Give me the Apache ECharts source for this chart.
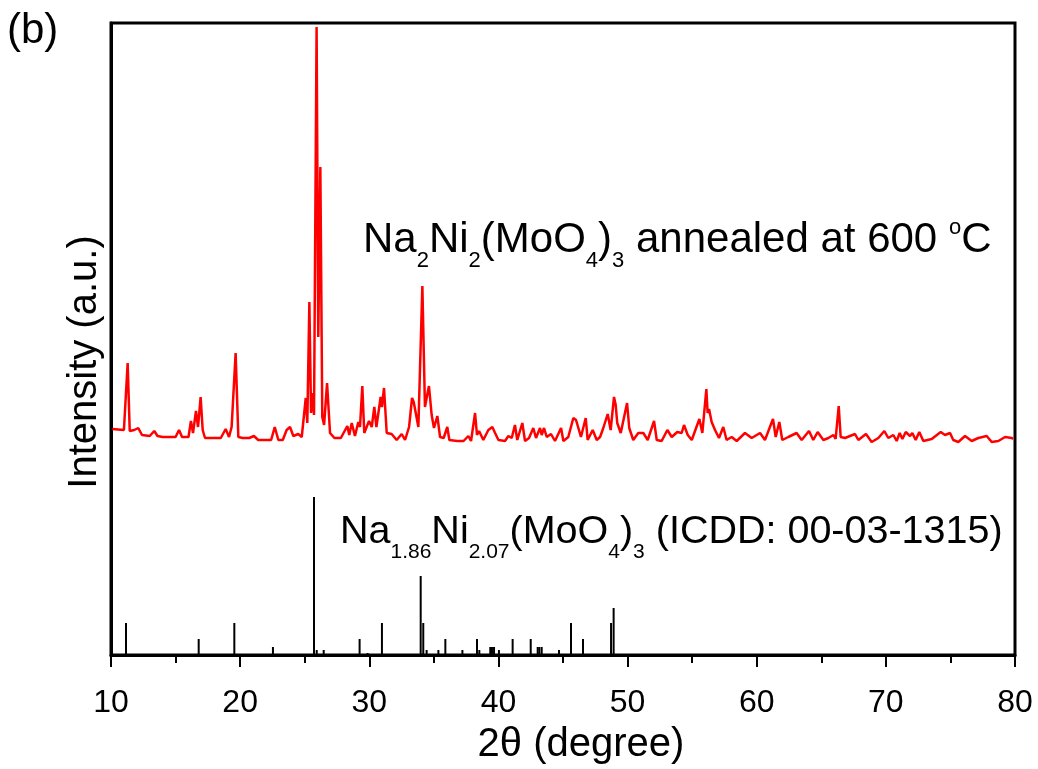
<!DOCTYPE html>
<html>
<head>
<meta charset="utf-8">
<script src="https://cdn.jsdelivr.net/npm/echarts@6/dist/echarts.min.js"></script>
<style>
html,body{margin:0;padding:0;background:#fff;}
#chart{width:1038px;height:769px;}
</style>
</head>
<body>
<div id="chart"></div>
<script>
// Measured XRD pattern (2theta, intensity a.u.)
const redTheta = [10.1,11.0,11.15,11.29,11.45,11.8,12.11,12.4,13.0,13.35,13.6,14.0,14.5,15.0,15.27,15.5,16.0,16.19,16.35,16.58,16.74,16.94,17.1,17.28,18.0,18.5,18.88,19.14,19.34,19.65,19.86,20.2,20.7,21.07,21.4,22.0,22.4,22.68,22.96,23.3,23.6,23.86,24.12,24.5,24.77,25.08,25.2,25.36,25.49,25.62,25.72,25.92,26.05,26.21,26.36,26.5,26.73,26.96,27.3,27.8,28.3,28.45,28.64,28.89,29.15,29.28,29.46,29.61,29.98,30.19,30.39,30.55,30.88,30.98,31.14,31.35,31.73,32.12,32.51,32.77,33.08,33.31,33.44,33.54,33.80,34.11,34.31,34.44,34.62,34.83,35.01,35.27,35.48,35.76,36.04,36.2,36.8,37.3,37.67,37.88,38.19,38.34,38.5,38.83,39.22,39.53,39.74,40.0,40.51,40.77,41.03,41.28,41.46,41.85,42.06,42.37,42.70,42.91,43.22,43.35,43.53,43.74,44.07,44.38,44.85,45.03,45.41,45.80,46.01,46.19,46.39,46.76,46.91,47.30,47.61,47.87,48.12,48.46,48.69,48.95,49.08,49.2,49.47,49.96,50.13,50.44,50.83,51.22,51.56,52.05,52.26,52.64,53.08,53.42,53.85,54.19,54.37,54.66,54.97,55.56,55.79,56.1,56.2,56.31,56.51,56.77,57.08,57.41,57.67,58.06,58.45,59.09,59.61,60.26,60.64,61.26,61.47,61.75,61.98,62.45,63.09,63.48,64.05,64.38,64.72,65.16,65.55,65.94,66.11,66.35,66.5,66.84,67.61,67.87,68.46,68.9,69.42,69.88,70.19,70.58,70.84,71.07,71.28,71.54,71.87,72.05,72.31,72.59,72.9,73.55,74.25,74.58,74.97,75.22,75.61,76.13,76.65,77.16,77.81,78.2,78.71,79.23,79.75,79.85];
const redIntensity = [226,225,227,292,224,225,227,220,219,224,219,218,218,218,225,218,218,234,222,244,228,258,225,217,217,217,226,218,228,302,218,217,217,219,215,215,215,228,215,215,225,228,219,221,218,257,232,353,242,262,240,628,318,488,238,230,272,222,217,217,229,220,232,219,233,228,269,222,234,228,248,228,258,248,267,222,221,215,221,215,228,257,253,255,228,369,248,257,269,240,227,239,218,217,228,215,214,214,219,214,242,220,224,215,225,228,222,215,214,219,217,230,215,232,214,217,227,217,227,220,227,218,221,214,227,214,218,237,235,227,218,237,215,225,215,218,227,241,225,258,250,232,222,252,227,215,222,222,215,234,215,214,225,218,223,222,230,220,215,236,222,266,242,246,233,225,217,228,215,218,214,222,217,222,215,236,218,233,215,218,222,215,224,215,223,215,217,220,216,249,218,217,221,215,221,213,217,224,217,220,214,222,216,223,219,222,215,223,214,216,223,220,222,215,213,219,214,217,219,213,214,218,217,216];

// Reference pattern ICDD 00-03-1315 (stick positions and heights)
const stickTheta = [11.16,16.79,19.55,22.54,25.72,25.93,26.47,29.25,29.87,30.98,33.98,34.18,34.44,35.35,35.89,37.21,38.34,38.52,39.37,39.50,39.66,40.04,41.10,42.50,43.04,43.17,43.35,44.69,45.62,46.55,48.72,48.92];
const stickIntensity = [32,16,32,8,158,5,5,16,2,32,79,32,5,5,16,5,16,5,8,8,8,5,16,16,8,8,8,5,32,16,32,47];

const xTicks = [10,20,30,40,50,60,70,80];

const redData = redTheta.map((t,i)=>[t, redIntensity[i]]);
const stickData = stickTheta.map((t,i)=>[t, stickIntensity[i]]);

const FONT = 'Arial, "Liberation Sans", sans-serif';
const chart = echarts.init(document.getElementById('chart'), null, {renderer:'canvas'});

function richSet(mainSize, subSize, subDrop, supRise){
  return {
    m:{fontSize:mainSize, fontFamily:FONT, color:'#000', lineHeight:56},
    s:{fontSize:subSize, fontFamily:FONT, color:'#000', lineHeight:56, padding:[subDrop*2,0,0,0]},
    p:{fontSize:subSize, fontFamily:FONT, color:'#000', lineHeight:56, padding:[0,0,supRise*2,0]}
  };
}

chart.setOption({
  animation:false,
  backgroundColor:'#fff',
  grid:{left:111,right:23,top:23,bottom:114,show:true,borderColor:'#000',borderWidth:3,backgroundColor:'transparent'},
  xAxis:{
    type:'value',min:10,max:80,interval:10,
    axisLine:{show:true,lineStyle:{color:'#000',width:3}},
    axisTick:{show:true,inside:false,length:12,lineStyle:{color:'#000',width:2}},
    minorTick:{show:true,splitNumber:2,length:8,lineStyle:{color:'#000',width:2}},
    splitLine:{show:false},
    axisLabel:{color:'#000',fontSize:32,fontFamily:FONT,margin:32,
      formatter:v=> xTicks.indexOf(v)>=0 ? String(v) : ''}
  },
  yAxis:{
    type:'value',min:0,max:632,
    axisLine:{show:true,lineStyle:{color:'#000',width:3}},
    axisTick:{show:false},axisLabel:{show:false},splitLine:{show:false}
  },
  series:[
    {
      type:'line',data:redData,showSymbol:false,symbol:'none',
      lineStyle:{color:'#ff0000',width:2.5},z:3
    },
    {
      type:'custom',data:stickData,z:3,
      renderItem:function(params,api){
        const p0 = api.coord([api.value(0),0]);
        const p1 = api.coord([api.value(0),api.value(1)]);
        return {type:'line',shape:{x1:p0[0],y1:p0[1],x2:p1[0],y2:p1[1]},
          style:{stroke:'#000',lineWidth:2}};
      }
    }
  ],
  graphic:[
    {type:'text',left:7,top:10,style:{text:'(b)',fontSize:42,fontFamily:FONT,fill:'#000'}},
    {type:'text',x:85,y:362,rotation:Math.PI/2,
      style:{text:'Intensity (a.u.)',fontSize:40,fontFamily:FONT,fill:'#000',align:'center',verticalAlign:'middle'}},
    {type:'text',x:581,y:745,
      style:{text:'2θ (degree)',fontSize:40,fontFamily:FONT,fill:'#000',align:'center',verticalAlign:'middle'}},
    {type:'text',x:363,y:268,
      style:{text:'{m|Na}{s|2}{m|Ni}{s|2}{m|(MoO}{s|4}{m|)}{s|3}{m| annealed at 600 }{p|o}{m|C}',
        align:'left',verticalAlign:'bottom',
        rich:richSet(42,22,21,12)}},
    {type:'text',x:340,y:560,
      style:{text:'{m|Na}{s|1.86}{m|Ni}{s|2.07}{m|(MoO}{s|4}{m|)}{s|3}{m| (ICDD: 00-03-1315)}',
        align:'left',verticalAlign:'bottom',
        rich:richSet(39.5,21,20,12)}}
  ]
});
</script>
</body>
</html>
